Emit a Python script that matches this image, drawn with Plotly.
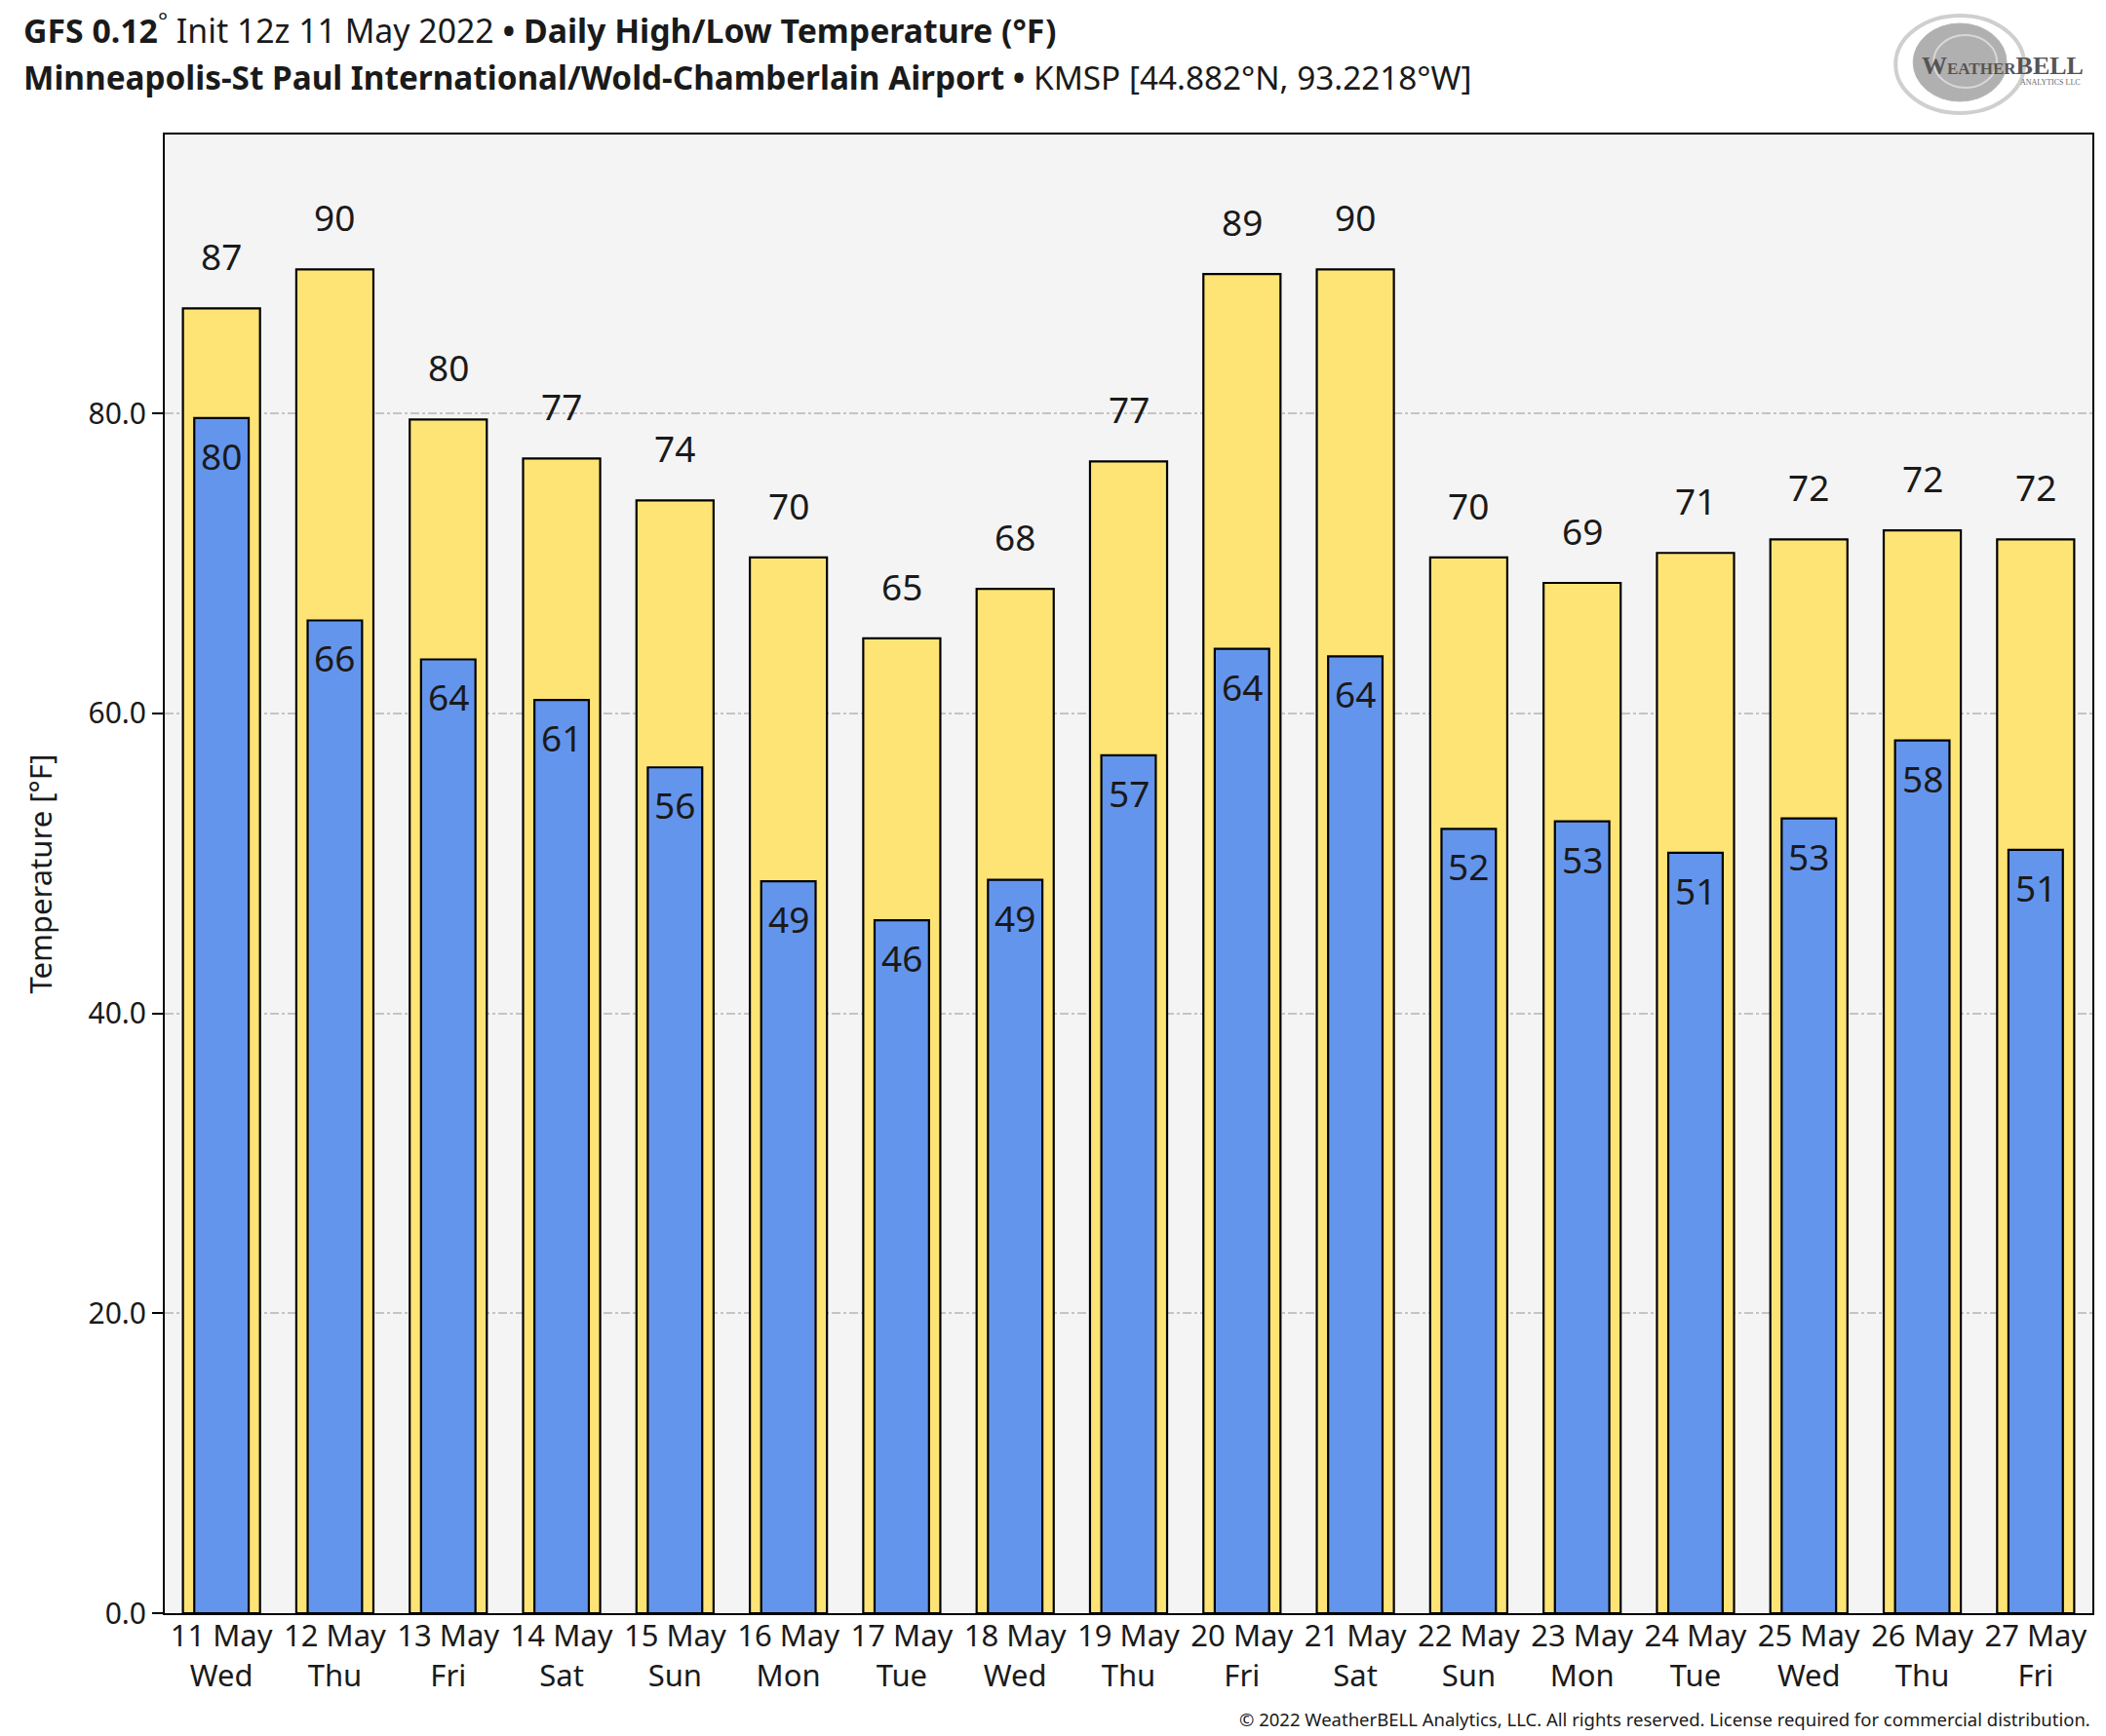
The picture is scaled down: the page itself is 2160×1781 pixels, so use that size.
import plotly.graph_objects as go

dates = ["11 May", "12 May", "13 May", "14 May", "15 May", "16 May", "17 May", "18 May",
         "19 May", "20 May", "21 May", "22 May", "23 May", "24 May", "25 May", "26 May", "27 May"]
weekdays = ["Wed", "Thu", "Fri", "Sat", "Sun", "Mon", "Tue", "Wed",
            "Thu", "Fri", "Sat", "Sun", "Mon", "Tue", "Wed", "Thu", "Fri"]
highs = [87.0, 89.6, 79.6, 77.0, 74.2, 70.4, 65.0, 68.3, 76.8, 89.3, 89.6,
         70.4, 68.7, 70.7, 71.6, 72.2, 71.6]
lows = [79.7, 66.2, 63.6, 60.9, 56.4, 48.8, 46.2, 48.9, 57.2, 64.3, 63.8,
        52.3, 52.8, 50.7, 53.0, 58.2, 50.9]
y_ticks = [0, 20, 40, 60, 80]

W, H = 2160, 1781
ML, MR, MT, MB = 169, 12, 138, 126
PW, PH = W - ML - MR, H - MT - MB


def px(x):
    return (x - ML) / PW


def py(y):
    return (H - MB - y) / PH


FONT = "Noto Sans"
TXT = "#1a1a1a"
YELLOW = "#FDE475"
BLUE = "#6495ED"

xs = list(range(len(dates)))
ticktext = [f"{d}<br>{w}" for d, w in zip(dates, weekdays)]

fig = go.Figure()
fig.add_trace(go.Bar(x=xs, y=highs, width=0.68, marker=dict(color=YELLOW, line=dict(color="black", width=2.2)),
                     name="High", hoverinfo="y"))
fig.add_trace(go.Bar(x=xs, y=lows, width=0.48, marker=dict(color=BLUE, line=dict(color="black", width=2.2)),
                     name="Low", hoverinfo="y"))

annotations = []
for x, h, l in zip(xs, highs, lows):
    annotations.append(dict(x=x, y=h, xref="x", yref="y", text=f"{h:.0f}", showarrow=False,
                            yanchor="bottom", yshift=26, font=dict(family=FONT, size=37, color=TXT)))
    annotations.append(dict(x=x, y=l, xref="x", yref="y", text=f"{l:.0f}", showarrow=False,
                            yanchor="top", yshift=-11, font=dict(family=FONT, size=37, color=TXT)))

annotations.append(dict(
    x=px(22), y=py(29), xref="paper", yref="paper", xanchor="left", yanchor="middle", showarrow=False,
    text="<b>GFS 0.12</b><sup>°</sup> Init 12z 11 May 2022 <b>• Daily High/Low Temperature (°F)</b>",
    font=dict(family=FONT, size=33.8, color=TXT)))
annotations.append(dict(
    x=px(22), y=py(79), xref="paper", yref="paper", xanchor="left", yanchor="middle", showarrow=False,
    text="<b>Minneapolis-St Paul International/Wold-Chamberlain Airport •</b> KMSP [44.882°N, 93.2218°W]",
    font=dict(family=FONT, size=33.3, color=TXT)))
annotations.append(dict(
    x=1.0, y=py(1763), xref="paper", yref="paper", xanchor="right", yanchor="middle", showarrow=False,
    text="© 2022 WeatherBELL Analytics, LLC. All rights reserved. License required for commercial distribution.",
    font=dict(family=FONT, size=18.5, color=TXT)))
# logo text
annotations.append(dict(
    x=px(2056), y=py(67), xref="paper", yref="paper", xanchor="center", yanchor="middle", showarrow=False,
    text="<b>W<span style='font-size:17px'>EATHER</span>BELL</b>",
    font=dict(family="Liberation Serif", size=26, color="#555555")))
annotations.append(dict(
    x=px(2105), y=py(84), xref="paper", yref="paper", xanchor="center", yanchor="middle", showarrow=False,
    text="ANALYTICS LLC", font=dict(family="Liberation Serif", size=8, color="#666666")))

shapes = [
    dict(type="circle", xref="paper", yref="paper", x0=px(1946), x1=px(2078), y0=py(116), y1=py(16),
         line=dict(color="#cfcfcf", width=4), fillcolor="rgba(0,0,0,0)", layer="below"),
    dict(type="circle", xref="paper", yref="paper", x0=px(1964), x1=px(2060), y0=py(104), y1=py(24),
         line=dict(color="#b5b5b5", width=1), fillcolor="#b0b0b0", layer="below"),
    dict(type="circle", xref="paper", yref="paper", x0=px(1985), x1=px(2050), y0=py(90), y1=py(36),
         line=dict(color="#d8d8d8", width=2), fillcolor="rgba(0,0,0,0)", layer="below"),
]

fig.update_layout(
    width=W, height=H,
    margin=dict(l=ML, r=MR, t=MT, b=MB, pad=0),
    barmode="overlay",
    showlegend=False,
    paper_bgcolor="white",
    plot_bgcolor="#F4F4F4",
    font=dict(family=FONT, color=TXT),
    annotations=annotations,
    shapes=shapes,
    xaxis=dict(
        range=[-0.5, len(dates) - 0.5], tickmode="array", tickvals=xs, ticktext=ticktext,
        tickfont=dict(family=FONT, size=31, color=TXT), showgrid=False, zeroline=False,
        showline=True, linecolor="black", linewidth=2, mirror=True, ticks="", fixedrange=True,
        ticklabelstandoff=-5,
    ),
    yaxis=dict(
        range=[0, 98.6], tickmode="array", tickvals=y_ticks, ticktext=[f"{v:.1f}" for v in y_ticks],
        tickfont=dict(family=FONT, size=30, color=TXT), showgrid=True, gridcolor="#c4c4c4",
        griddash="dashdot", gridwidth=1.5, zeroline=False,
        showline=True, linecolor="black", linewidth=2, mirror=True,
        ticks="outside", ticklen=11, tickwidth=2, tickcolor="black",
        title=dict(text="Temperature [°F]", font=dict(family=FONT, size=31, color=TXT), standoff=28),
    ),
)

fig.write_html("out.html", config={"displayModeBar": False},
               post_script="document.body.style.margin='0px';")
